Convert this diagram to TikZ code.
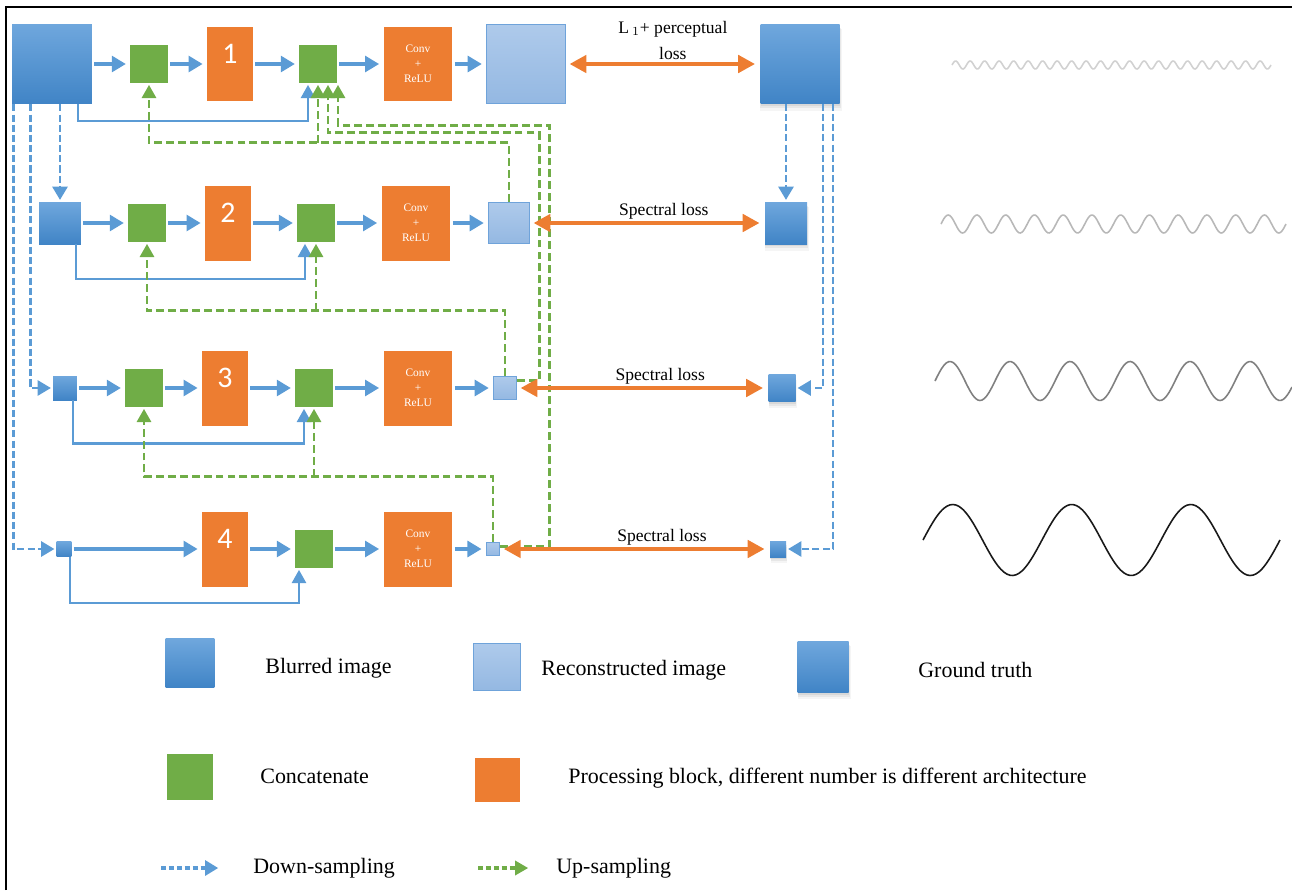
\documentclass[tikz,border=0pt]{standalone}
\usepackage{fontspec}
\setmainfont{Liberation Serif}
\newfontfamily\numfont{Carlito}
\usetikzlibrary{arrows.meta,shadows}

\definecolor{blurtop}{HTML}{6FA7DD}
\definecolor{blurbot}{HTML}{4084C6}
\definecolor{rectop}{HTML}{AECAEB}
\definecolor{recbot}{HTML}{94B8E2}
\definecolor{recedge}{HTML}{6FA3DA}
\definecolor{catgreen}{HTML}{70AD47}
\definecolor{procorange}{HTML}{ED7D31}
\definecolor{arrowblue}{HTML}{5B9BD5}

\begin{document}
\begin{tikzpicture}[x=0.02cm, y=-0.02cm,
    blur/.style={rectangle, inner sep=0pt, top color=blurtop, bottom color=blurbot},
    recon/.style={rectangle, inner sep=0pt, draw=recedge, line width=0.8pt, top color=rectop, bottom color=recbot},
    truth/.style={rectangle, inner sep=0pt, top color=blurtop, bottom color=blurbot,
      drop shadow={shadow xshift=0pt, shadow yshift=-1.2pt, opacity=0.15},
      drop shadow={shadow xshift=0.4pt, shadow yshift=-2.2pt, opacity=0.12, shadow scale=1.02},
      drop shadow={shadow xshift=0.6pt, shadow yshift=-3.2pt, opacity=0.08, shadow scale=1.04}},
    cat/.style={rectangle, inner sep=0pt, fill=catgreen, minimum size=0.75cm},
    proc/.style={rectangle, inner sep=0pt, fill=procorange, text=white, minimum width=0.92cm, minimum height=1.5cm, font=\numfont\fontsize{17}{17}\selectfont},
    conv/.style={rectangle, inner sep=0pt, fill=procorange, text=white, align=center, minimum width=1.38cm, minimum height=1.5cm, font=\fontsize{6.5}{8.5}\selectfont},
    flow/.style={-{Triangle[length=8pt,width=9pt]}, arrowblue, line width=1.9pt, shorten <=1.2pt, shorten >=2.3pt},
    skip/.style={-{Triangle[length=7.5pt,width=8pt]}, arrowblue, line width=1.3pt, shorten >=1pt},
    down/.style={-{Triangle[length=7.5pt,width=8.5pt]}, arrowblue, line width=1.5pt, dash pattern=on 4pt off 1.8pt, shorten >=1pt},
    up/.style={-{Triangle[length=7.5pt,width=8pt]}, catgreen, line width=1.6pt, dash pattern=on 4.5pt off 2.3pt, shorten >=1pt},
    loss/.style={{Triangle[length=9.5pt,width=10pt]}-{Triangle[length=9.5pt,width=10pt]}, procorange, line width=1.8pt, shorten <=2pt, shorten >=3pt},
    losstext/.style={text=black, font=\fontsize{10}{15}\selectfont, inner sep=1.5pt, align=center},
    legtext/.style={anchor=west, inner sep=0pt, font=\fontsize{12.5}{14}\selectfont}]
  \useasboundingbox (0,0) rectangle (1292,890);
  \draw[line width=0.8pt] (6,890) -- (6,7) -- (1292,7);

  \node[blur, minimum size=1.6cm] (b1) at (52,64) {};
  \node[cat] (c11) at (149,64) {};
  \node[proc] (p1) at (230,64) {\raisebox{0.4cm}{1}};
  \node[cat] (c12) at (318,64) {};
  \node[conv] (cv1) at (418,64) {Conv\\+\\ReLU};
  \node[recon, minimum size=1.58cm] (r1) at (526,64) {};
  \node[truth, minimum size=1.58cm] (g1) at (800,64) {};

  \node[blur, minimum size=0.84cm] (b2) at (60,223) {};
  \node[cat] (c21) at (147,223) {};
  \node[proc] (p2) at (228,223) {\raisebox{0.4cm}{2}};
  \node[cat] (c22) at (316,223) {};
  \node[conv] (cv2) at (416,223) {Conv\\+\\ReLU};
  \node[recon, minimum size=0.82cm] (r2) at (509,223) {};
  \node[truth, minimum size=0.84cm] (g2) at (786,223) {};

  \node[blur, minimum size=0.48cm] (b3) at (65,388) {};
  \node[cat] (c31) at (144,388) {};
  \node[proc] (p3) at (225,388) {\raisebox{0.4cm}{3}};
  \node[cat] (c32) at (314,388) {};
  \node[conv] (cv3) at (418,388) {Conv\\+\\ReLU};
  \node[recon, minimum size=0.46cm] (r3) at (505,388) {};
  \node[truth, minimum size=0.54cm] (g3) at (782,388) {};

  \node[blur, minimum size=0.3cm] (b4) at (64,549) {};
  \node[proc] (p4) at (225,549) {\raisebox{0.4cm}{4}};
  \node[cat] (c42) at (314,549) {};
  \node[conv] (cv4) at (418,549) {Conv\\+\\ReLU};
  \node[recon, minimum size=0.27cm] (r4) at (493,549) {};
  \node[truth, minimum size=0.32cm] (g4) at (778,549) {};

  \draw[flow] (b1) -- (c11);
  \draw[flow] (c11) -- (p1);
  \draw[flow] (p1) -- (c12);
  \draw[flow] (c12) -- (cv1);
  \draw[flow] (cv1) -- (r1);
  \draw[flow] (b2) -- (c21);
  \draw[flow] (c21) -- (p2);
  \draw[flow] (p2) -- (c22);
  \draw[flow] (c22) -- (cv2);
  \draw[flow] (cv2) -- (r2);
  \draw[flow] (b3) -- (c31);
  \draw[flow] (c31) -- (p3);
  \draw[flow] (p3) -- (c32);
  \draw[flow] (c32) -- (cv3);
  \draw[flow] (cv3) -- (r3);
  \draw[flow] (b4) -- (p4);
  \draw[flow] (p4) -- (c42);
  \draw[flow] (c42) -- (cv4);
  \draw[flow] (cv4) -- (r4);

  \draw[skip] ([xshift=-0.28cm]b1.south east) -- ++(0,17) -| ([xshift=-0.2cm]c12.south);
  \draw[skip] ([xshift=-0.1cm]b2.south east) -- ++(0,35) -| ([xshift=-0.22cm]c22.south);
  \draw[skip] ([xshift=-0.08cm]b3.south east) -- ++(0,43) -| ([xshift=-0.2cm]c32.south);
  \draw[skip] ([xshift=-0.04cm]b4.south east) -- ++(0,46) -| ([xshift=-0.3cm]c42.south);

  \draw[up] (r2.north) -- ++(0,-59) coordinate (k1) -| (c11.south);
  \draw[up] (c12.south |- k1) -- (c12.south);
  \draw[up] ([yshift=-0.1cm]r3.north east) -- ++(22,0) -- ++(0,-248) -| ([xshift=0.2cm]c12.south);
  \draw[up] ([yshift=-0.1cm]r4.north east) -- ++(49,0) -- ++(0,-421) -| ([xshift=0.4cm]c12.south);
  \draw[up] (r3.north) -- ++(0,-65) coordinate (k2) -| (c21.south);
  \draw[up] (c22.south |- k2) -- (c22.south);
  \draw[up] (r4.north) -- ++(0,-65) coordinate (k3) -| (c31.south);
  \draw[up] (c32.south |- k3) -- (c32.south);

  \draw[down] (b1.south -| b2.north) -- (b2.north);
  \draw[down] ([xshift=0.38cm]b1.south west) |- (b3.west);
  \draw[down] ([xshift=0.04cm]b1.south west) |- (b4.west);
  \draw[down] (g1.south -| g2.north) -- (g2.north);
  \draw[down] ([xshift=-0.34cm]g1.south east) |- (g3.east);
  \draw[down] ([xshift=-0.14cm]g1.south east) |- (g4.east);

  \draw[loss] (r1) -- (g1) node[losstext, pos=0.55, above] {L\,$_{1}$+ perceptual\\loss};
  \draw[loss] (r2) -- (g2) node[losstext, pos=0.57, above] {Spectral loss};
  \draw[loss] (r3) -- (g3) node[losstext, pos=0.57, above] {Spectral loss};
  \draw[loss] (r4) -- (g4) node[losstext, pos=0.6, above] {Spectral loss};

  \draw[black!18, line width=0.9pt] plot[domain=952:1271, samples=320, smooth] (\x, {65-4*sin((\x-952)/14.5*360)});
  \draw[black!28, line width=0.9pt] plot[domain=941:1286, samples=240, smooth] (\x, {224-9*sin((\x-941)/28.75*360)});
  \draw[black!50, line width=0.9pt] plot[domain=935:1292, samples=160, smooth] (\x, {381-19.5*sin((\x-935)/60*360)});
  \draw[black!90, line width=0.9pt] plot[domain=923:1280, samples=120, smooth] (\x, {540-35.5*sin((\x-923)/119*360)});

  \node[blur, minimum size=0.98cm] (lb) at (190,663) {};
  \node[legtext] (lbt) at (265,668) {Blurred image};
  \node[recon, minimum size=0.94cm] (lr) at (497,667) {};
  \node[legtext] (lrt) at (541,670) {Reconstructed image};
  \node[truth, minimum size=1.02cm] (lg) at (823,667) {};
  \node[legtext] (lgt) at (918,670) {Ground truth};
  \node[cat, minimum size=0.92cm] (lc) at (190,777) {};
  \node[legtext] (lct) at (260,776) {Concatenate};
  \node[proc, minimum width=0.9cm, minimum height=0.88cm] (lp) at (497,780) {};
  \node[legtext] (lpt) at (568,778) {Processing block, different number is different architecture};
  \coordinate (ld1) at (161,868);
  \coordinate (ld2) at (220,868);
  \draw[down, line width=2pt, dash pattern=on 3pt off 1.5pt] (ld1) -- (ld2);
  \node[legtext] (ldt) at (253,868) {Down-sampling};
  \coordinate (lu1) at (478,868);
  \coordinate (lu2) at (530,868);
  \draw[up, line width=2pt, dash pattern=on 3pt off 1.5pt] (lu1) -- (lu2);
  \node[legtext] (lut) at (556,868) {Up-sampling};
\end{tikzpicture}
\end{document}
